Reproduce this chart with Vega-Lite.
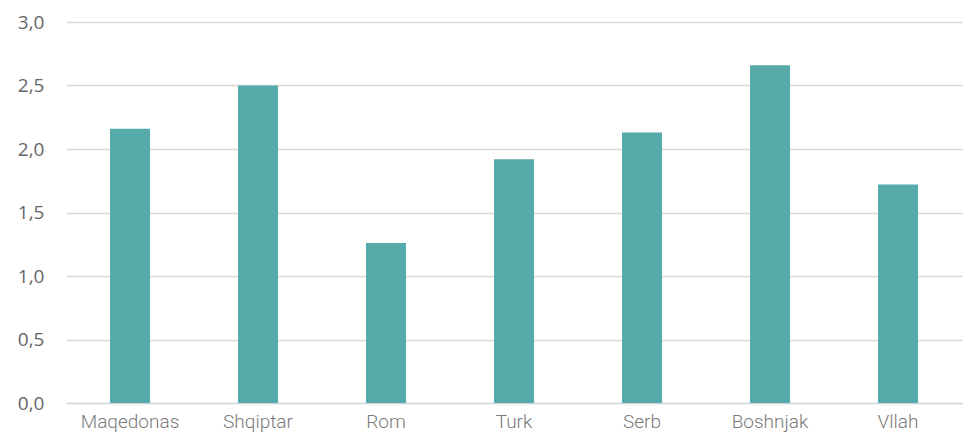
{
  "$schema": "https://vega.github.io/schema/vega-lite/v6.json",
  "width": 896,
  "height": 381,
  "autosize": {"type": "none"},
  "padding": {"left": 66, "top": 22, "right": 1, "bottom": 37},
  "background": "white",
  "config": {
    "view": {"stroke": null},
    "locale": {"number": {"decimal": ",", "thousands": ".", "grouping": [3], "currency": ["", " €"]}}
  },
  "data": {
    "values": [
      {"group": "Maqedonas", "value": 2.16},
      {"group": "Shqiptar", "value": 2.5},
      {"group": "Rom", "value": 1.26},
      {"group": "Turk", "value": 1.92},
      {"group": "Serb", "value": 2.13},
      {"group": "Boshnjak", "value": 2.66},
      {"group": "Vllah", "value": 1.72}
    ]
  },
  "mark": {"type": "bar", "color": "#57aaaa"},
  "encoding": {
    "x": {
      "field": "group",
      "type": "nominal",
      "sort": null,
      "scale": {"paddingInner": 0.6875, "paddingOuter": 0.34375},
      "axis": {
        "title": null,
        "labelAngle": 0,
        "ticks": false,
        "domainColor": "#d9d9d9",
        "domainWidth": 1.5,
        "labelFont": "Roboto",
        "labelFontWeight": 300,
        "labelFontSize": 19,
        "labelColor": "#7a7a7a",
        "labelPadding": 9
      }
    },
    "y": {
      "field": "value",
      "type": "quantitative",
      "scale": {"domain": [0, 3], "nice": false},
      "axis": {
        "title": null,
        "values": [0, 0.5, 1, 1.5, 2, 2.5, 3],
        "format": ".1f",
        "domain": false,
        "ticks": false,
        "grid": true,
        "gridColor": "#d9d9d9",
        "gridWidth": 1.5,
        "labelFont": "Open Sans",
        "labelFontSize": 19,
        "labelColor": "#666666",
        "labelPadding": 22
      }
    }
  }
}
